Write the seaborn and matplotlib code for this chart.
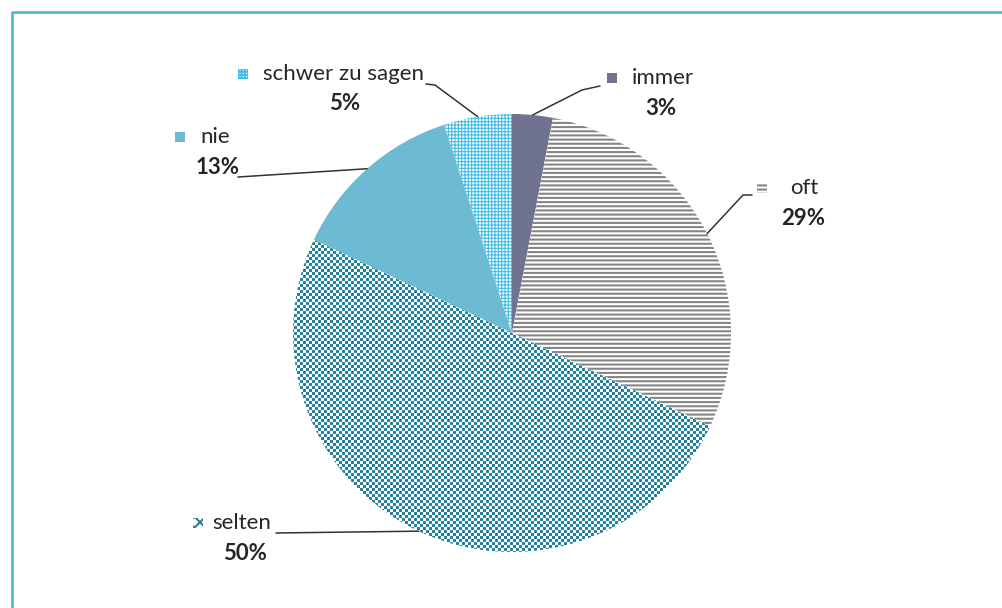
import numpy as np
import matplotlib.pyplot as plt
import seaborn as sns
from matplotlib.patches import Rectangle
from matplotlib.lines import Line2D
from matplotlib.colors import to_rgb

# data
categories = ["immer", "oft", "selten", "nie", "schwer zu sagen"]
shares = [3, 29, 50, 13, 5]
pct_labels = ["3%", "29%", "50%", "13%", "5%"]

# styles per category
fills = {"immer": "#707390", "oft": "white", "selten": "white",
         "nie": "#6dbbd3", "schwer zu sagen": "white"}
edges = {"immer": "#707390", "oft": "#858585", "selten": "#2a8199",
         "nie": "#6dbbd3", "schwer zu sagen": "#40bde8"}
hatches = {"immer": None, "oft": "----", "selten": "xxx",
           "nie": None, "schwer zu sagen": "+++++"}
hatch_lw = {"immer": 1.0, "oft": 1.5, "selten": 1.0,
            "nie": 1.0, "schwer zu sagen": 0.8}

# label layout in pixels (marker centre, text left, pct centre, leader knee)
marker_xy = {"immer": (612, 78), "oft": (762, 188), "selten": (198, 523),
             "nie": (180, 137), "schwer zu sagen": (243, 74)}
text_xy = {"immer": (632, 78), "oft": (790, 188), "selten": (212, 523),
           "nie": (200, 137), "schwer zu sagen": (263, 74)}
pct_xy = {"immer": (661, 108), "oft": (803, 218), "selten": (245, 553),
          "nie": (218, 167), "schwer zu sagen": (345, 103)}
leader_pts = {"immer": [(582, 90), (600, 86)],
              "oft": [(743, 195), (752, 195)],
              "selten": [(276, 533)],
              "nie": [(238, 177)],
              "schwer zu sagen": [(435, 85), (426, 84)]}

sns.set_style("white")
plt.rcParams['font.family'] = ['Lato', 'DejaVu Sans']
plt.rcParams['hatch.linewidth'] = 1.5

W, H = 1003, 608
def py(y):
    return H - y

fig = plt.figure(figsize=(W / 100, H / 100), dpi=100)
ax = fig.add_axes([0, 0, 1, 1])

cx, cy, R = 512, py(333), 219
wedges, _ = ax.pie(shares, startangle=90, counterclock=False,
                   center=(cx, cy), radius=R, wedgeprops=dict(linewidth=0))

for w, cat in zip(wedges, categories):
    w.set_facecolor(fills[cat])
    w.set_edgecolor(edges[cat])
    w.set_linewidth(0)
    if hatches[cat] and cat != "selten":
        w.set_hatch(hatches[cat])
        if hasattr(w, "set_hatch_linewidth"):
            w.set_hatch_linewidth(hatch_lw[cat])

# checkerboard texture for "selten"
yy, xx = np.mgrid[0:H, 0:W]
checker = ((yy // 3 + xx // 3) % 2).astype(bool)
img = np.ones((H, W, 3))
img[checker] = to_rgb(edges["selten"])
sel = wedges[categories.index("selten")]
im = ax.imshow(img, extent=(0, W, 0, H), origin="lower",
               interpolation="nearest", zorder=sel.get_zorder() + 0.1)
im.set_clip_path(sel)

ax.set_xlim(0, W)
ax.set_ylim(0, H)
ax.axis("off")

txt_color = "#262626"
for w, cat, pct in zip(wedges, categories, pct_labels):
    # leader line from wedge mid-angle on the rim
    mid = np.deg2rad((w.theta1 + w.theta2) / 2)
    pts = [(cx + R * np.cos(mid), cy + R * np.sin(mid))]
    pts += [(x, py(y)) for x, y in leader_pts[cat]]
    xs, ys = zip(*pts)
    ax.plot(xs, ys, color="#333333", lw=1.1, zorder=5)

    mx, my = marker_xy[cat]
    sq = Rectangle((mx - 5, py(my) - 5), 10, 10,
                   facecolor=fills[cat], edgecolor=edges[cat], linewidth=0,
                   hatch=hatches[cat], zorder=5)
    ax.add_patch(sq)

    tx, ty = text_xy[cat]
    ax.text(tx, py(ty), cat, fontsize=16, color=txt_color, ha="left", va="center")
    px, pyy = pct_xy[cat]
    ax.text(px, py(pyy), pct, fontsize=16, fontweight="bold", color=txt_color,
            ha="center", va="center")

# light blue frame
fig.add_artist(Line2D([12 / W, 12 / W, 1], [0, 1 - 12 / H, 1 - 12 / H],
                      transform=fig.transFigure, color="#45b5cf", lw=1.8))

fig.savefig("out.png", dpi=100)
